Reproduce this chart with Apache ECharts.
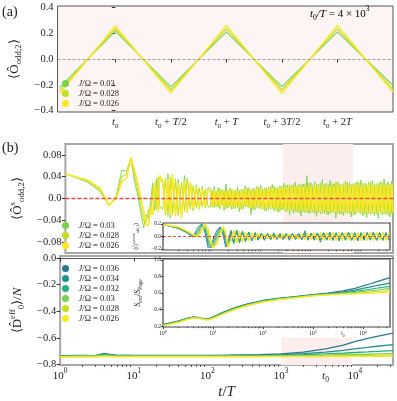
<!DOCTYPE html>
<html>
<head>
<meta charset="utf-8">
<script src="https://cdn.jsdelivr.net/npm/echarts@6/dist/echarts.min.js"></script>
<style>
  html, body { margin: 0; background: #fff; }
  #chart { width: 397px; height: 401px; }
</style>
</head>
<body>
<div id="chart"></div>
<script>
const FONT = 'Liberation Serif';
const INK = '#222';

// J/Omega values, viridis colours
const jVals = ['0.036', '0.034', '0.032', '0.03', '0.028', '0.026'];
const jColors = ['#2a788e', '#21918c', '#27ad81', '#7ad151', '#c2df23', '#fde725'];

// (a) time measured from t0, in units of T
const tA = [-0.5, 0, 0.5, 1, 1.5, 2, 2.5];
const oA030 = [-0.22, 0.215, -0.215, 0.21, -0.213, 0.21, -0.205];
const oA028 = [-0.245, 0.235, -0.24, 0.235, -0.24, 0.235, -0.235];
const oA026 = [-0.265, 0.255, -0.262, 0.26, -0.265, 0.26, -0.255];
const tickA = [0, 0.5, 1, 1.5, 2];
const tickAText = [
  '{i|t}{s|0}',
  '{i|t}{s|0}{n| + }{i|T}{n|/2}',
  '{i|t}{s|0}{n| + }{i|T}',
  '{i|t}{s|0}{n| + 3}{i|T}{n|/2}',
  '{i|t}{s|0}{n| + 2}{i|T}'
];

// (b) top: stroboscopic times t/T and <O^s_odd,2>
const tS = [1, 2, 3, 4, 5, 6, 7, 8, 9, 10, 11, 12, 13, 14, 15, 16, 17, 18, 19, 20,
  22, 24, 26, 28, 30, 33, 36, 40, 44, 48, 53, 58, 64, 70, 77, 85, 93,
  100, 106, 113, 120, 128, 136, 145, 154, 164, 174, 185, 197, 209, 222, 236, 251, 267, 284, 302, 321,
  341, 363, 386, 410, 436, 464, 493, 524, 557, 592, 630, 670, 712, 757, 805, 856, 910, 967, 1028, 1093,
  1162, 1236, 1314, 1397, 1485, 1579, 1679, 1785, 1898, 2018, 2145, 2281, 2425, 2578, 2741, 2914, 3098, 3294, 3502, 3723,
  3958, 4208, 4474, 4756, 5057, 5376, 5716, 6077, 6461, 6869, 7303, 7764, 8254, 8775, 9329, 9918, 10544, 11210, 11918, 12670,
  13470, 14321, 15226, 16187, 17209, 18296, 19451, 20680, 21986, 23374, 24850, 26419, 28087, 29861, 31746, 33000];
const os030 = [.046, .030, .013, -.013, .004, .052, .050, .075, .030, .005, -.028, -.054, -.030, -.036, -.005, .028, -.022, .036, -.018, .030,
  .035, -.030, .045, -.036, .040, -.028, .035, -.030, .042, -.026, .030, -.022, .025, -.020, .022, -.018, .020,
  .018, -.016, .022, -.015, .020, -.019, .016, -.022, .027, -.017,
  .019, -.020, .016, -.018, .021, -.024, .017, -.019, .023, -.016,
  .020, -.030, .018, -.021, .022, -.018, .025, -.020, .019, -.023,
  .021, -.019, .026, -.022, .020, -.025, .023, -.021, .028, -.024,
  .025, -.030, .024, -.027, .030, -.025, .026, -.032, .027, -.026,
  .042, -.028, .029, -.025, .031, -.033, .026, -.028, .035, -.027,
  .028, -.030, .033, -.026, .027, -.036, .030, -.028, .026, -.031,
  .032, -.027, .029, -.034, .027, -.030, .031, -.026, .034, -.032,
  .028, -.035, .030, -.029, .033, -.031, .027, -.036, .031, -.030,
  .036, -.029, .030, -.034, .032, -.033];
const os028 = [.046, .032, .016, -.013, .002, .040, .045, .075, .042, .015, -.015, -.040, -.045, -.020, -.030, .015, .020, -.020, .040, -.015,
  -.020, .038, -.034, .040, -.030, .036, -.032, .030, -.024, .038, -.020, .024, -.018, .020, -.016, .018, -.016,
  -.015, .016, -.018, .014, -.017, .019, -.014, .016, -.020, .015,
  -.016, .018, -.019, .015, -.017, .016, -.021, .018, -.016, .020,
  -.018, .017, -.022, .019, -.017, .021, -.019, .018, -.023, .020,
  -.020, .022, -.019, .024, -.022, .020, -.025, .023, -.021, .025,
  -.024, .026, -.023, .027, -.025, .024, -.028, .026, -.025, .028,
  -.026, .029, -.027, .025, -.029, .027, -.026, .030, -.028, .026,
  -.030, .027, -.028, .029, -.026, .031, -.029, .027, -.030, .028,
  -.027, .030, -.028, .026, -.031, .029, -.027, .030, -.029, .028,
  -.030, .027, -.029, .031, -.028, .026, -.030, .029, -.027, .030,
  -.029, .028, -.031, .027, -.029, .030];
const os026 = [.045, .034, .019, -.012, .000, .030, .038, .075, .052, .027, .000, -.022, -.048, -.050, -.015, -.030, .030, .010, -.025, .042,
  .030, -.026, .036, -.030, .045, -.033, .028, -.035, .032, -.024, .030, -.018, .022, -.020, .018, -.015, .016,
  .013, -.014, .015, -.012, .014, -.015, .013, -.016, .014, -.013,
  .015, -.014, .016, -.015, .013, -.016, .015, -.014, .017, -.015,
  .016, -.017, .015, -.016, .018, -.015, .017, -.018, .016, -.017,
  .018, -.017, .019, -.018, .017, -.019, .020, -.018, .021, -.020,
  .020, -.022, .021, -.020, .022, -.021, .023, -.022, .021, -.023,
  .022, -.021, .023, -.022, .024, -.023, .022, -.024, .023, -.022,
  .024, -.023, .022, -.024, .023, -.025, .024, -.023, .025, -.024,
  .024, -.025, .023, -.024, .025, -.024, .025, -.025, .024, -.025,
  .025, -.024, .025, -.025, .024, -.025, .025, -.024, .025, -.025,
  .024, -.025, .025, -.024, .025, -.025];

// (b) top inset: <O^{s,zoom}_odd,2>
const tIn = [1, 2, 3, 4, 5, 6, 7, 8, 9, 10, 12, 14, 16, 18, 20, 23, 26, 30, 34, 39, 45, 52, 60, 70, 80, 93,
  107, 124, 143, 165, 190, 220, 254, 293, 338, 390, 450, 520, 600, 693, 800, 923, 1066, 1230, 1420, 1640,
  1893, 2185, 2522, 2912, 3362, 3881, 4480, 5172, 5970, 6892, 7956, 9185, 10603, 12240, 14130, 16310,
  18830, 21740, 25090, 28970, 33440];
const iz036 = [.19, .13, .06, -.01, .15, .20, .05, -.18, -.15, -.05, .10, .15, .02, -.17, -.08,
  .10, -.11, .09, -.10, .08, -.08, .07, -.07, .06, -.06, .05, -.06, .05, -.05, .06,
  -.04, .05, -.05, .04, -.06, .05, -.04, .05, -.05, .09, -.05, .05, -.06, .05, -.09,
  .06, -.05, .07, -.06, .05, -.07, .06, -.05, .07, -.06, .06, -.07, .05, -.06, .06,
  -.05, .07, -.06, .05, -.06, .06, -.05];
const iz034 = [.19, .135, .07, .0, .10, .20, .10, -.12, -.18, -.10, .05, .15, .08, -.12, -.14,
  .06, -.11, .10, -.09, .08, -.07, .07, -.06, .06, -.05, .05, -.05, .04, -.05, .04,
  -.05, .04, -.04, .05, -.04, .04, -.05, .04, -.04, .05, -.06, .05, -.05, .06, -.05,
  .05, -.06, .05, -.05, .06, -.05, .06, -.06, .05, -.06, .05, -.06, .06, -.05, .06,
  -.06, .05, -.06, .06, -.05, .06, -.06];
const iz032 = [.19, .14, .075, .01, .06, .19, .14, -.06, -.18, -.14, .0, .13, .12, -.06, -.16,
  .02, -.10, .10, -.08, .07, -.07, .06, -.06, .05, -.05, .04, -.05, .04, -.04, .04,
  -.04, .04, -.04, .04, -.04, .04, -.04, .04, -.05, .04, -.05, .05, -.05, .05, -.05,
  .06, -.05, .05, -.06, .05, -.06, .05, -.05, .06, -.05, .06, -.05, .06, -.05, .06,
  -.05, .06, -.05, .06, -.06, .05, -.06];
const iz030 = [.19, .145, .08, .02, .03, .17, .17, .0, -.16, -.17, -.04, .10, .15, .0, -.17,
  -.03, .10, -.09, .08, -.08, .06, -.06, .05, -.05, .05, -.04, .04, -.04, .04, -.03,
  .04, -.04, .03, -.04, .04, -.04, .04, -.04, .04, -.05, .05, -.05, .05, -.05, .06,
  -.05, .06, -.05, .06, -.06, .05, -.06, .06, -.05, .06, -.06, .05, -.06, .06, -.05,
  .06, -.06, .05, -.06, .06, -.06, .05];
const iz028 = [.19, .15, .085, .025, .01, .13, .19, .06, -.12, -.18, -.08, .07, .16, .04, -.16,
  -.07, .09, -.10, .07, -.07, .06, -.06, .05, -.04, .04, -.04, .04, -.03, .04, -.03,
  .03, -.04, .03, -.03, .04, -.03, .04, -.04, .04, -.04, .05, -.05, .05, -.05, .05,
  -.06, .05, -.06, .05, -.06, .06, -.05, .06, -.06, .05, -.06, .06, -.05, .06, -.06,
  .06, -.06, .06, -.05, .06, -.06, .06];
const iz026 = [.19, .155, .09, .03, -.01, .09, .20, .12, -.06, -.18, -.12, .05, .15, .06, -.16,
  -.05, .09, -.10, .08, -.09, .07, -.07, .06, -.05, .05, -.04, .04, -.04, .03, -.04,
  .03, -.03, .04, -.03, .03, -.04, .03, -.04, .04, -.04, .05, -.05, .05, -.06, .05,
  -.06, .06, -.05, .06, -.06, .06, -.06, .06, -.06, .06, -.06, .06, -.06, .06, -.06,
  .06, -.06, .06, -.06, .06, -.06, .06];

// (b) bottom: <D_0^eff>/N
const tD = [1, 2, 3, 4, 5, 6, 8, 10, 20, 50, 100, 200, 500, 1000, 2000, 4000, 7000, 10000, 15000, 20000, 33000];
const d036 = [-.735, -.733, -.734, -.718, -.728, -.733, -.732, -.733, -.733, -.733, -.732, -.731, -.728, -.722, -.708, -.684, -.655, -.630, -.605, -.590, -.566];
const d034 = [-.736, -.734, -.735, -.722, -.730, -.734, -.733, -.734, -.734, -.734, -.734, -.733, -.731, -.728, -.720, -.708, -.695, -.684, -.672, -.664, -.652];
const d032 = [-.738, -.736, -.737, -.728, -.733, -.736, -.736, -.736, -.736, -.736, -.736, -.735, -.734, -.732, -.728, -.722, -.716, -.711, -.706, -.702, -.697];
const d030 = [-.740, -.738, -.739, -.732, -.736, -.738, -.738, -.738, -.738, -.738, -.738, -.738, -.737, -.736, -.734, -.731, -.728, -.726, -.724, -.722, -.719];
const d028 = [-.742, -.741, -.741, -.737, -.739, -.740, -.740, -.740, -.740, -.740, -.740, -.740, -.740, -.739, -.738, -.737, -.735, -.734, -.733, -.732, -.731];
const d026 = [-.745, -.744, -.744, -.741, -.742, -.743, -.743, -.743, -.743, -.743, -.743, -.743, -.743, -.742, -.742, -.741, -.741, -.740, -.740, -.739, -.739];

// (b) bottom inset: S_ent / S_Page
const tE = [1, 2, 3, 4, 5, 6, 7, 8, 10, 15, 20, 30, 50, 100, 200, 500, 1000, 2000, 4000, 7000, 10000, 15000, 20000, 35000];
const s036 = [.22, .26, .295, .31, .305, .293, .285, .288, .31, .36, .39, .43, .47, .51, .535, .56, .58, .60, .625, .655, .685, .715, .74, .785];
const s034 = [.217, .257, .292, .308, .304, .292, .284, .286, .307, .356, .386, .426, .466, .506, .532, .557, .577, .594, .612, .635, .655, .677, .693, .72];
const s032 = [.214, .254, .289, .306, .303, .291, .283, .284, .304, .352, .382, .422, .462, .502, .529, .554, .574, .589, .603, .619, .633, .648, .66, .68];
const s030 = [.211, .251, .286, .303, .301, .290, .281, .281, .300, .348, .378, .418, .458, .498, .526, .551, .571, .585, .597, .608, .618, .628, .636, .655];
const s028 = [.208, .247, .282, .300, .299, .288, .279, .278, .296, .343, .373, .413, .453, .494, .522, .548, .568, .581, .591, .598, .604, .612, .618, .63];
const s026 = [.205, .243, .278, .296, .297, .286, .277, .275, .291, .338, .368, .408, .448, .490, .518, .545, .565, .577, .585, .590, .594, .598, .602, .61];

// log axis ticks
const logTicks = [1, 10, 100, 1000, 4000, 10000];
const logTickText = ['{n|10}{p|0}', '{n|10}{p|1}', '{n|10}{p|2}', '{n|10}{p|3}', '{i|t}{s|0}', '{n|10}{p|4}'];
const majorLog = [1, 10, 100, 1000, 10000];
const minorLog = [2, 3, 4, 5, 6, 7, 8, 9, 20, 30, 40, 50, 60, 70, 80, 90, 200, 300, 400, 500, 600, 700, 800, 900,
  2000, 3000, 4000, 5000, 6000, 7000, 8000, 9000, 20000, 30000];

const PINK = '#fdeeee';

function rich(size) {
  const base = { fontFamily: FONT, fontSize: size, color: INK, lineHeight: size * 1.4 };
  const small = { fontFamily: FONT, fontSize: size * 0.68, color: INK, lineHeight: size * 0.75 };
  return {
    n: base,
    i: Object.assign({}, base, { fontStyle: 'italic' }),
    s: Object.assign({}, small, { verticalAlign: 'bottom' }),
    p: Object.assign({}, small, { verticalAlign: 'top' })
  };
}

const nm = v => 'J/Ω = ' + v;
const fmt = d => v => Math.abs(v) < 1e-9 ? '0.0' : (v < 0 ? '−' : '') + Math.abs(v).toFixed(d);
const logFmt = v => {
  const k = logTicks.findIndex(t => Math.abs(t - v) / t < 1e-6);
  return k < 0 ? '' : logTickText[k];
};

function line(j, xi, yi, t, v, w, z) {
  return {
    type: 'line', name: nm(jVals[j]), xAxisIndex: xi, yAxisIndex: yi,
    data: t.map((x, k) => [x, v[k]]),
    symbol: 'none', showSymbol: false, clip: true, silent: true,
    color: jColors[j], lineStyle: { color: jColors[j], width: w }, z: z || 2
  };
}

function yAx(grid, min, max, ticks, d, size, extra) {
  return Object.assign({
    gridIndex: grid, type: 'value', min: min, max: max,
    axisLine: { show: false }, splitLine: { show: false },
    axisTick: { customValues: ticks, length: size > 8 ? 3.5 : 2, lineStyle: { color: '#333' } },
    axisLabel: { customValues: ticks, formatter: fmt(d), fontFamily: FONT, fontSize: size, color: INK, margin: size > 8 ? 4 : 2 }
  }, extra || {});
}

function logAx(grid, max, labels, size, tickLen, extra) {
  return Object.assign({
    gridIndex: grid, type: 'log', logBase: 10, min: 1, max: max, position: 'bottom',
    axisLine: { show: false }, splitLine: { show: false }, minorTick: { show: false },
    axisTick: { show: tickLen > 0, customValues: majorLog, length: tickLen, lineStyle: { color: '#333' } },
    axisLabel: labels ? {
      customValues: logTicks, formatter: logFmt, rich: rich(size), margin: 3,
      alignMinLabel: 'center', alignMaxLabel: 'center', hideOverlap: false
    } : { show: false }
  }, extra || {});
}

function minorAx(grid, max, len, z) {
  return {
    gridIndex: grid, type: 'log', logBase: 10, min: 1, max: max, position: 'bottom', z: z || 0,
    axisLine: { show: false }, splitLine: { show: false }, axisLabel: { show: false },
    axisTick: { customValues: minorLog, length: len, lineStyle: { color: '#333', width: 0.8 } }
  };
}

const legendBase = {
  orient: 'vertical', icon: 'circle', itemWidth: 16, itemHeight: 7, itemGap: 1, left: 57,
  formatter: name => '{i|J}{n|' + name.slice(1) + '}',
  textStyle: { fontSize: 8.5, rich: rich(8.5) }, selectedMode: false
};

const series = [];
// (a)
const aSeries = [line(3, 0, 0, tA, oA030, 1.1), line(4, 0, 0, tA, oA028, 1.3), line(5, 0, 0, tA, oA026, 1.5)];
aSeries[0].markLine = {
  silent: true, symbol: ['none', 'none'], label: { show: false },
  lineStyle: { color: '#8a8a8a', type: [3, 2], width: 0.8 }, data: [{ yAxis: 0 }]
};
series.push(...aSeries);
// (b) top
const bTop = [line(3, 1, 1, tS, os030, 0.9), line(4, 1, 1, tS, os028, 1.1), line(5, 1, 1, tS, os026, 1.6)];
bTop[0].markArea = { silent: true, itemStyle: { color: PINK }, data: [[{ xAxis: 1000 }, { xAxis: 9300 }]] };
bTop[2].markLine = {
  silent: true, symbol: ['none', 'none'], label: { show: false },
  lineStyle: { color: '#e5483f', type: [4, 2], width: 1.4 }, data: [{ yAxis: 0 }]
};
series.push(...bTop);
// (b) top inset
const izs = [iz036, iz034, iz032, iz030, iz028, iz026];
const inTop = izs.map((v, j) => line(j, 2, 2, tIn, v, j === 5 ? 1.3 : 0.9, 4));
inTop[0].markArea = { silent: true, itemStyle: { color: 'rgba(250,215,215,0.55)' }, data: [[{ xAxis: 1000 }, { xAxis: 5800 }]] };
inTop[5].markLine = {
  silent: true, symbol: ['none', 'none'], label: { show: false },
  lineStyle: { color: '#e5483f', type: [3, 2], width: 1 }, data: [{ yAxis: 0 }]
};
series.push(...inTop);
// (b) bottom
const ds = [d036, d034, d032, d030, d028, d026];
const bBot = ds.map((v, j) => line(j, 4, 3, tD, v, 1.3));
bBot[0].markArea = { silent: true, itemStyle: { color: PINK }, data: [[{ xAxis: 1000, yAxis: -0.805 }, { xAxis: 9300, yAxis: -0.6 }]] };
series.push(...bBot);
// (b) bottom inset
const ss = [s036, s034, s032, s030, s028, s026];
const inBot = ss.map((v, j) => line(j, 6, 4, tE, v, 1.2, 4));
inBot[0].markArea = { silent: true, itemStyle: { color: PINK }, data: [[{ xAxis: 1000 }, { xAxis: 10000 }]] };
series.push(...inBot);

const chart = echarts.init(document.getElementById('chart'), null, { renderer: 'canvas' });
chart.setOption({
  animation: false,
  backgroundColor: '#fff',
  grid: [
    { left: 51, top: 6, width: 342, height: 106, show: true, backgroundColor: '#fdf4f4', borderColor: '#555', borderWidth: 1 },
    { left: 51, top: 144, width: 342, height: 109, show: true, backgroundColor: 'transparent', borderColor: '#a8a8a8', borderWidth: 2 },
    { left: 163, top: 223, width: 227, height: 27 },
    { left: 51, top: 256, width: 342, height: 109, show: true, backgroundColor: 'transparent', borderColor: '#a8a8a8', borderWidth: 2 },
    { left: 163, top: 259, width: 227, height: 68 }
  ],
  xAxis: [
    {
      gridIndex: 0, type: 'value', min: -0.52, max: 2.5, position: 'bottom',
      axisLine: { show: false }, splitLine: { show: false },
      axisTick: { customValues: tickA, length: 3.5, lineStyle: { color: '#333' } },
      axisLabel: { customValues: tickA, formatter: v => tickAText[tickA.indexOf(Math.round(v * 2) / 2)], rich: rich(10.5), margin: 3 }
    },
    logAx(1, 33000, false, 10, 0),
    logAx(2, 35000, false, 6, 2, { z: 5 }),
    minorAx(2, 35000, 1.2, 5),
    logAx(3, 33000, true, 11, 3.5, {
      axisLine: { show: true, lineStyle: { color: '#555', width: 1.2 } },
      name: '{i|t}{n|/}{i|T}', nameLocation: 'middle', nameGap: 14, nameTextStyle: { rich: rich(15) }
    }),
    minorAx(3, 33000, 2),
    logAx(4, 35000, true, 5.5, 2, { z: 5 }),
    minorAx(4, 35000, 1.2, 5)
  ],
  yAxis: [
    yAx(0, -0.41, 0.41, [-0.4, -0.2, 0, 0.2, 0.4], 1, 10.5, {
      name: '{n|⟨Ô}{s|odd;2}{n|⟩}', nameLocation: 'middle', nameGap: 29, nameTextStyle: { rich: rich(13) }
    }),
    yAx(1, -0.1, 0.1, [-0.08, -0.04, 0, 0.04, 0.08], 2, 10.5, {
      name: '{n|⟨Ô}{p|s}{s|odd,2}{n|⟩}', nameLocation: 'middle', nameGap: 30, nameTextStyle: { rich: rich(13) }
    }),
    yAx(2, -0.215, 0.215, [-0.2, 0, 0.2], 1, 5.5, {
      z: 5, name: '{n|⟨Ô}{p|s,zoom}{s|odd,2}{n|⟩}', nameLocation: 'middle', nameGap: 10, nameTextStyle: { rich: rich(5.5) }
    }),
    yAx(3, -0.805, 0.015, [-0.8, -0.6, -0.4, -0.2, 0], 1, 10.5, {
      name: '{n|⟨D̂}{p|eff}{s|0}{n|⟩/}{i|N}', nameLocation: 'middle', nameGap: 30, nameTextStyle: { rich: rich(13) }
    }),
    yAx(4, 0.19, 1.01, [0.2, 0.4, 0.6, 0.8, 1.0], 1, 5.5, {
      z: 5, name: '{i|S}{s|ent}{n|/}{i|S}{s|Page}', nameLocation: 'middle', nameGap: 13, nameTextStyle: { rich: rich(8) }
    })
  ],
  legend: [
    Object.assign({}, legendBase, { top: 74, data: [nm('0.03'), nm('0.028'), nm('0.026')] }),
    Object.assign({}, legendBase, { top: 216, data: [nm('0.03'), nm('0.028'), nm('0.026')] }),
    Object.assign({}, legendBase, { top: 259, data: jVals.map(nm) })
  ],
  graphic: [
    { type: 'rect', z: 3, shape: { x: 163, y: 223, width: 227, height: 27 }, style: { fill: '#fff', stroke: '#444', lineWidth: 1.2 } },
    { type: 'rect', z: 3, shape: { x: 163, y: 259, width: 227, height: 68 }, style: { fill: '#fff', stroke: '#444', lineWidth: 1.2 } },
    { type: 'text', left: 2, top: 5, style: { text: '(a)', font: '14px "Liberation Serif"', fill: INK } },
    { type: 'text', left: 2, top: 141, style: { text: '(b)', font: '14px "Liberation Serif"', fill: INK } },
    { type: 'text', left: 310, top: 6, style: { text: '{i|t}{s|0}{i|/T}{n| = 4 × 10}{p|3}', rich: rich(11) } }
  ],
  series: series
});
</script>
</body>
</html>
